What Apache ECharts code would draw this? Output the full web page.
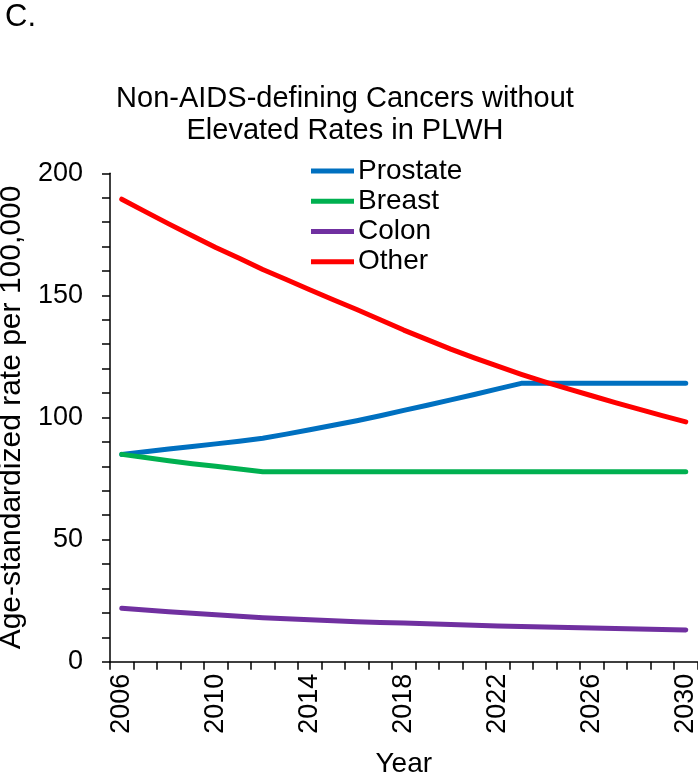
<!DOCTYPE html>
<html>
<head>
<meta charset="utf-8">
<script src="https://cdn.jsdelivr.net/npm/echarts@6/dist/echarts.min.js"></script>
<style>html,body{margin:0;padding:0;background:#fff}#c{width:698px;height:778px}</style>
</head>
<body>
<div id="c"></div>
<script>
const years = [2006,2007,2008,2009,2010,2011,2012,2013,2014,2015,2016,2017,2018,2019,2020,2021,2022,2023,2024,2025,2026,2027,2028,2029,2030];
const prostate = [84.9,86.0,87.1,88.1,89.2,90.3,91.5,93.2,95.0,96.8,98.7,100.7,102.9,105.0,107.2,109.4,111.7,114.0,114.0,114.0,114.0,114.0,114.0,114.0,114.0];
const breast = [84.9,83.6,82.3,81.1,80.0,78.9,77.8,77.8,77.8,77.8,77.8,77.8,77.8,77.8,77.8,77.8,77.8,77.8,77.8,77.8,77.8,77.8,77.8,77.8,77.8];
const colon = [21.9,21.2,20.5,19.8,19.2,18.6,18.0,17.6,17.2,16.8,16.4,16.1,15.8,15.5,15.2,14.9,14.6,14.4,14.2,14.0,13.8,13.6,13.4,13.2,13.0];
const other = [189.4,184.3,179.3,174.4,169.6,165.2,160.6,156.5,152.3,148.2,144.2,140.0,135.8,131.9,128.0,124.4,121.0,117.7,114.6,111.7,108.9,106.1,103.4,100.8,98.2];
const seriesNames = ['Prostate','Breast','Colon','Other'];
const seriesColors = ['#0070C0','#00B050','#7030A0','#FF0000'];
const seriesData = [prostate, breast, colon, other];
const yTicks = [0,50,100,150,200];

const FONT = 'Liberation Sans, Arial, sans-serif';
const chart = echarts.init(document.getElementById('c'), null, {renderer:'canvas'});
chart.setOption({
  animation: false,
  backgroundColor: '#fff',
  title: [
    {text: 'C.', left: 0, top: -3, textStyle: {fontFamily: FONT, fontSize: 31, fontWeight: 'normal', color: '#000'}},
    {text: 'Non-AIDS-defining Cancers without\nElevated Rates in PLWH', left: 340, top: 78, textAlign: 'center',
     textStyle: {fontFamily: FONT, fontSize: 29, fontWeight: 'normal', color: '#000', lineHeight: 32}}
  ],
  legend: {
    orient: 'vertical', left: 306, top: 151, itemWidth: 43, itemHeight: 14, itemGap: 0,
    data: seriesNames.map((n,i)=>({name:n, icon:'path://M0,0 L43,0 L43,5 L0,5 Z', itemStyle:{color:seriesColors[i]}})),
    textStyle: {fontFamily: FONT, fontSize: 28, color: '#000', lineHeight: 30.2, padding: [0,0,0,-1]}
  },
  grid: {left: 110, right: 0.5, top: 173.3, bottom: 116.3, containLabel: false, outerBoundsMode: 'none'},
  xAxis: {
    type: 'category', data: years, boundaryGap: true,
    name: 'Year', nameLocation: 'middle', nameGap: 89,
    nameTextStyle: {fontFamily: FONT, fontSize: 28, color: '#000'},
    axisLine: {lineStyle: {color: '#000', width: 1.5}},
    axisTick: {show: true, interval: 0, length: 8, lineStyle: {color: '#000', width: 1.5}},
    axisLabel: {interval: 3, rotate: 90, margin: 12, fontFamily: FONT, fontSize: 27, color: '#000', hideOverlap: false},
    splitLine: {show: false}
  },
  yAxis: {
    type: 'value', min: 0, max: 200, interval: 10,
    name: 'Age-standardized rate per 100,000', nameLocation: 'middle', nameGap: 78,
    nameTextStyle: {fontFamily: FONT, fontSize: 30, color: '#000'},
    axisLine: {show: true, lineStyle: {color: '#000', width: 1.5}},
    axisTick: {show: true, length: 8, lineStyle: {color: '#000', width: 1.5}},
    axisLabel: {margin: 27, fontFamily: FONT, fontSize: 27, color: '#000',
      formatter: v => yTicks.includes(v) ? String(v) : ''},
    splitLine: {show: false}
  },
  series: seriesNames.map((n,i)=>({
    name: n, type: 'line', data: seriesData[i], symbol: 'none', smooth: false,
    lineStyle: {color: seriesColors[i], width: 5, cap: 'round', join: 'round'},
    itemStyle: {color: seriesColors[i]}
  }))
});
</script>
</body>
</html>
